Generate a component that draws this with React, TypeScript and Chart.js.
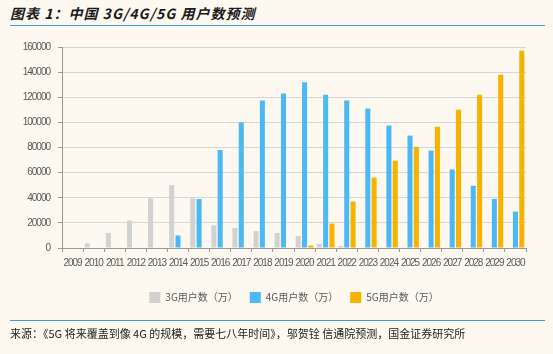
import React, { useEffect, useRef } from "react";
import { Chart, registerables } from "chart.js";

Chart.register(...registerables);

const years = ["2009","2010","2011","2012","2013","2014","2015","2016","2017","2018","2019","2020","2021","2022","2023","2024","2025","2026","2027","2028","2029","2030"];
const users3G = [0, 3700, 12000, 22000, 39500, 50000, 39500, 18000, 16000, 13500, 12000, 9500, 3200, 1600, null, null, null, null, null, null, null, null];
const users4G = [null, null, null, null, null, 10000, 39000, 78000, 100000, 117500, 123000, 132000, 122000, 117500, 111000, 97500, 89500, 77500, 62500, 49500, 39000, 29000];
const users5G = [null, null, null, null, null, null, null, null, null, null, null, 2000, 19500, 37000, 56000, 69500, 80500, 96500, 110000, 122000, 138000, 157000];
const seriesNames = ["3G用户数（万）", "4G用户数（万）", "5G用户数（万）"];
const yTicks = [0, 20000, 40000, 60000, 80000, 100000, 120000, 140000, 160000];

const BG = "#FDF9F0";
const TICK_FONT = "'Liberation Sans', Arial, sans-serif";

function narrowLabels(s: any) {
  if (s.__narrowed) return;
  s.__narrowed = true;
  const orig = s.drawLabels;
  s.drawLabels = function (area: any) {
    const c: any = this.ctx;
    const prev = c.letterSpacing;
    c.letterSpacing = "-1px";
    orig.call(this, area);
    c.letterSpacing = prev || "0px";
  };
}

export default function App() {
  const ref = useRef<HTMLCanvasElement | null>(null);
  useEffect(() => {
    document.body.style.margin = "0";
    const ctx = ref.current!;
    const chart = new Chart(ctx, {
      type: "bar",
      data: {
        labels: years,
        datasets: [
          { label: seriesNames[0], data: users3G, backgroundColor: "#D2D2D2" },
          { label: seriesNames[1], data: users4G, backgroundColor: "#4DB8F6" },
          { label: seriesNames[2], data: users5G, backgroundColor: "#F6B400" },
        ],
      },
      options: {
        animation: false,
        responsive: false,
        maintainAspectRatio: false,
        datasets: { bar: { categoryPercentage: 0.9, barPercentage: 0.8 } },
        layout: { padding: { left: 0, right: 27, top: 47, bottom: 41 } },
        plugins: {
          title: { display: false },
          tooltip: { enabled: false },
          legend: {
            position: "bottom",
            fullSize: false,
            labels: {
              boxWidth: 11,
              boxHeight: 11,
              padding: 12,
              color: "#595959",
              font: { family: "Noto Sans CJK SC", size: 10 },
            },
          },
        },
        scales: {
          x: {
            offset: true,
            grid: { offset: true, drawOnChartArea: false, tickLength: 4, color: "#999999" },
            border: { color: "#999999" },
            ticks: { color: "#595959", font: { family: TICK_FONT, size: 10 }, padding: 5, maxRotation: 0, autoSkip: false },
            afterFit: (s: any) => { s.height = 32; narrowLabels(s); },
          },
          y: {
            min: 0,
            max: 160000,
            afterBuildTicks: (s: any) => { s.ticks = yTicks.map((v) => ({ value: v })); },
            grid: { color: "#D6D6D6", borderDash: [2, 2], tickBorderDash: [], tickColor: "#999999", tickLength: 4 },
            border: { color: "#999999" },
            ticks: { color: "#595959", font: { family: TICK_FONT, size: 10 }, padding: 8, callback: (v: any) => String(v) },
            afterFit: (s: any) => { s.width = 62; narrowLabels(s); },
          },
        },
      },
    });
    return () => chart.destroy();
  }, []);
  return (
    <div style={{ position: "relative", width: 553, height: 354, background: BG, overflow: "hidden" }}>
      <div style={{ position: "absolute", left: 10, top: 4, fontFamily: "Noto Sans CJK SC", fontWeight: 700, fontStyle: "italic", fontSize: 14, letterSpacing: 1, color: "#1a1a1a", whiteSpace: "nowrap", lineHeight: "19px" }}>
        图表 1：中国 3G/4G/5G 用户数预测
      </div>
      <div style={{ position: "absolute", left: 10, top: 25, width: 535, height: 1, background: "#3C9DD0" }} />
      <canvas ref={ref} width={553} height={354} style={{ position: "absolute", left: 0, top: 0, width: 553, height: 354 }} />
      <div style={{ position: "absolute", left: 10, top: 320, width: 535, height: 1, background: "#3C9DD0" }} />
      <div style={{ position: "absolute", left: 10, top: 325, fontFamily: "Noto Sans CJK SC", fontSize: 11, color: "#222", whiteSpace: "nowrap", lineHeight: "16px" }}>
        来源：《5G 将来覆盖到像 4G 的规模，需要七八年时间》，邬贺铨 信通院预测，国金证券研究所
      </div>
    </div>
  );
}
